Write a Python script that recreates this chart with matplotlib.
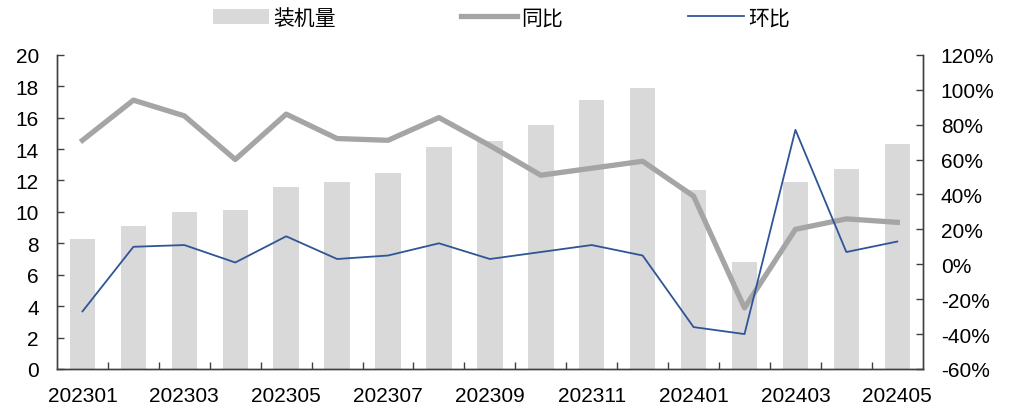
import numpy as np
import matplotlib
matplotlib.use('Agg')
import matplotlib.pyplot as plt
from matplotlib.ticker import FuncFormatter

plt.rcParams['font.family'] = ['Liberation Sans', 'Noto Sans CJK SC', 'DejaVu Sans']

# 数据
months = ['202301', '202302', '202303', '202304', '202305', '202306', '202307', '202308', '202309',
          '202310', '202311', '202312', '202401', '202402', '202403', '202404', '202405']
installs = [8.3, 9.1, 10.0, 10.1, 11.6, 11.9, 12.5, 14.1, 14.5, 15.5, 17.1, 17.9, 11.4, 6.8, 11.9, 12.7, 14.3]
yoy = [71, 94, 85, 60, 86, 72, 71, 84, 68, 51, 55, 59, 39, -25, 20, 26, 24]   # 同比 %
mom = [-27, 10, 11, 1, 16, 3, 5, 12, 3, 7, 11, 5, -36, -40, 77, 7, 13]       # 环比 %

x = np.arange(len(months))

fig = plt.figure(figsize=(10.11, 4.10), dpi=100)
ax = fig.add_axes([0.0564, 0.0976, 0.8563, 0.7664])
ax2 = ax.twinx()

b = ax.bar(x, installs, width=0.5, color='#D9D9D9', label='装机量', zorder=1)
l1, = ax2.plot(x, yoy, color='#A5A5A5', lw=3.8, label='同比', zorder=3)
l2, = ax2.plot(x, mom, color='#2F5597', lw=1.3, label='环比', zorder=4)

ax.set_xlim(-0.5, len(months) - 0.5)
ax.set_ylim(0, 20)
ax.set_yticks(range(0, 21, 2))
ax2.set_ylim(-60, 120)
ax2.set_yticks(range(-60, 121, 20))
ax2.yaxis.set_major_formatter(FuncFormatter(lambda v, p: f'{int(v)}%'))

# x轴标签隔一个显示, 刻度在类别边界
ax.set_xticks(x[::2])
ax.set_xticklabels(months[::2])
ax.set_xticks(np.arange(0.5, len(months) - 1, 1), minor=True)
ax.tick_params(axis='x', which='major', length=0, pad=12, labelsize=15)
ax.tick_params(axis='x', which='minor', direction='in', length=5, width=1, color='#404040')
ax.tick_params(axis='y', direction='in', length=5, width=1, color='#404040', pad=13, labelsize=15)
ax2.tick_params(axis='y', direction='in', length=5, width=1, color='#404040', pad=13, labelsize=15)

for a in (ax, ax2):
    a.spines['top'].set_visible(False)
    for s in ('left', 'right', 'bottom'):
        a.spines[s].set_color('#404040')
        a.spines[s].set_linewidth(1)

ax.set_zorder(ax2.get_zorder() - 1)
ax.patch.set_visible(False)

fig.legend(handles=[b, l1, l2], labels=['装机量', '同比', '环比'], loc='center',
           bbox_to_anchor=(0.496, 0.954), ncol=3, frameon=False, fontsize=15,
           handlelength=2.7, handletextpad=0.2, columnspacing=6.0)

fig.savefig('out.png', dpi=100)
